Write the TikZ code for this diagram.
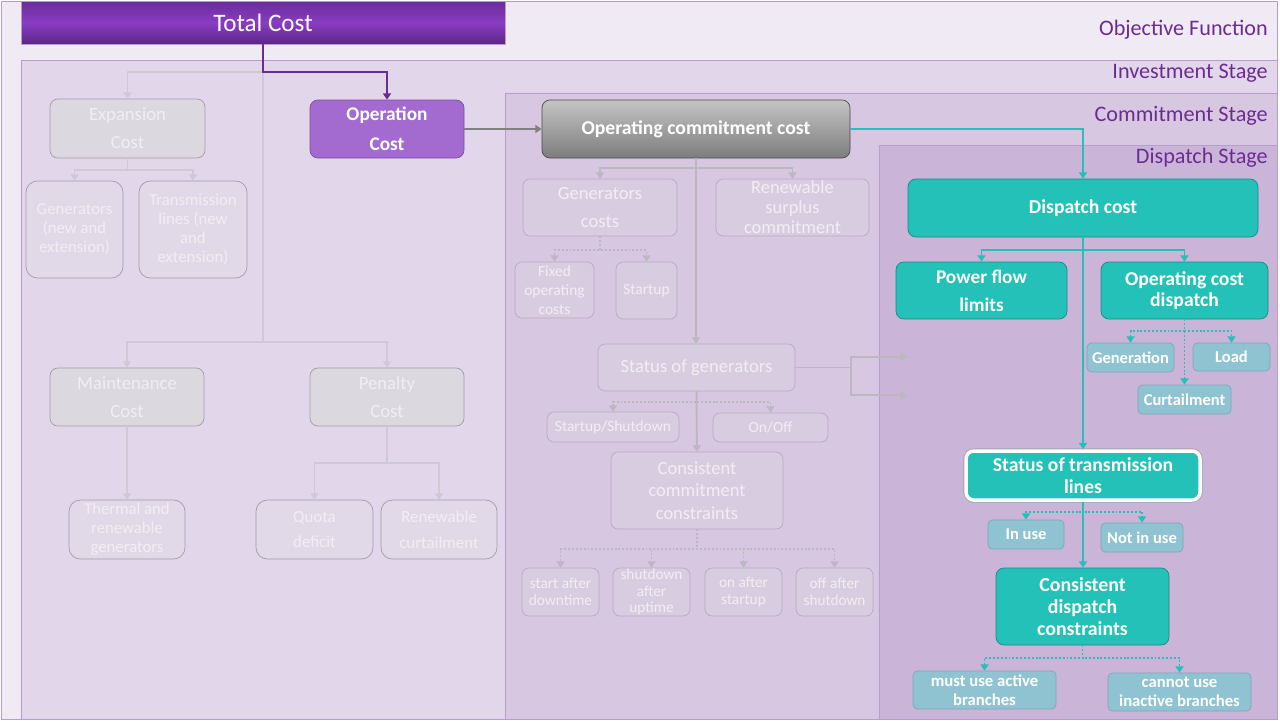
\documentclass[tikz,border=0pt]{standalone}
\usepackage{fontspec}
\setmainfont{Carlito}
\usepackage{tikz}
\usetikzlibrary{
  arrows.meta,
  positioning,
  calc
}
\definecolor{objbg}{HTML}{F0EAF5}
\definecolor{invbg}{HTML}{E2D7EA}
\definecolor{combg}{HTML}{D7C7E1}
\definecolor{disbg}{HTML}{CAB5D8}
\definecolor{stageframe}{HTML}{B79DCA}
\definecolor{stagetext}{HTML}{6A2C91}
\definecolor{totaltop}{HTML}{6A2C99}
\definecolor{totalmid}{HTML}{8A3CC3}
\definecolor{totalbottom}{HTML}{5C2788}
\definecolor{greyfill}{HTML}{DCD8DF}
\definecolor{greyframe}{HTML}{A19AA7}
\definecolor{greytext}{HTML}{F1EEF3}
\definecolor{subfill}{HTML}{E1D9E8}
\definecolor{comfill}{HTML}{D8CDE0}
\definecolor{comframe}{HTML}{B9AAC4}
\definecolor{lightlink}{HTML}{CFC8D5}
\definecolor{comlink}{HTML}{BDB7C1}
\definecolor{opfill}{HTML}{A36BCF}
\definecolor{opframe}{HTML}{7A4A9E}
\definecolor{dispteal}{HTML}{24C1B8}
\definecolor{tealframe}{HTML}{1B8880}
\definecolor{subteal}{HTML}{8FC3D2}
\definecolor{subtealframe}{HTML}{7EA6B6}

\begin{document}
\begin{tikzpicture}[
      x=0.02cm, y=-0.02cm,
      boxwh/.style 2 args={minimum width=#1*0.02cm, minimum height=#2*0.02cm},
      fsz/.style 2 args={font=\fontsize{#1pt}{#2pt}\selectfont},
      fszb/.style 2 args={font=\fontsize{#1pt}{#2pt}\selectfont\bfseries},
      totalbox/.style={draw=stageframe, top color=totaltop, bottom color=totalbottom, middle color=totalmid, inner sep=0pt, text=white, fsz={14.3}{16}},
      costbox/.style={draw=greyframe, fill=greyfill, rounded corners=4.5pt, inner sep=0pt, align=center, text=greytext, fsz={10.6}{15.9}},
      subbox/.style={draw=greyframe, fill=subfill, rounded corners=6.5pt, inner sep=0pt, align=center, text=greytext, fsz={9.5}{10.8}},
      opbox/.style={draw=opframe, fill=opfill, rounded corners=4.5pt, inner sep=0pt, align=center, text=white, fszb={11}{17}},
      gradbox/.style={draw=black!70, top color=black!23, bottom color=black!51, rounded corners=4.5pt, inner sep=0pt, text=white, fszb={11.2}{12.5}},
      combox/.style={draw=comframe, fill=comfill, rounded corners=4pt, inner sep=0pt, align=center, text=greytext, fsz={8.8}{10.8}},
      dispbox/.style={draw=tealframe, fill=dispteal, rounded corners=4.5pt, inner sep=0pt, align=center, text=white, fszb={11.2}{12.2}},
      dispsub/.style={draw=subtealframe, fill=subteal, rounded corners=2.5pt, inner sep=0pt, align=center, text=white, fszb={9.4}{10.8}},
      whiteframe/.style={preaction={draw=black!35, line width=3pt}, draw=white, line width=2pt},
      stagelabel/.style={anchor=east, inner sep=0pt, text=stagetext, fsz={12.6}{14}},
      lightarrow/.style={-{Triangle[length=3.6pt,width=4.6pt]}, line width=1.1pt, lightlink},
      lightline/.style={line width=1.1pt, lightlink},
      comarrow/.style={-{Triangle[length=3.6pt,width=4.6pt]}, line width=1.1pt, comlink},
      comdots/.style={-{Triangle[length=3.6pt,width=4.6pt]}, line width=1.1pt, comlink, dash pattern=on 1.1pt off 1.1pt},
      purplearrow/.style={-{Triangle[length=3.6pt,width=4.6pt]}, line width=1.1pt, stagetext},
      darkarrow/.style={-{Triangle[length=3.6pt,width=4.6pt]}, line width=1.1pt, black!50},
      tealarrow/.style={-{Triangle[length=3.6pt,width=4.6pt]}, line width=1.1pt, dispteal},
      tealdots/.style={-{Triangle[length=3.6pt,width=4.6pt]}, line width=1.1pt, dispteal, dash pattern=on 1.1pt off 1.1pt}
  ]
    \useasboundingbox (0,0) rectangle (1280,720);

    % Stage bands
    \draw [stageframe, fill=objbg] (1,1) rectangle (1277,719.5);
    \draw [stageframe, fill=invbg] (21,60) rectangle (1277,719.5);
    \draw [stageframe, fill=combg] (505,93) rectangle (1277,719.5);
    \draw [stageframe, fill=disbg] (879,145) rectangle (1277,719.5);

    \node [stagelabel] (lblobj) at (1268,30) {Objective Function};
    \node [stagelabel] (lblinv) at (1268,73) {Investment Stage};
    \node [stagelabel] (lblcom) at (1268,116) {Commitment Stage};
    \node [stagelabel] (lbldis) at (1268,158) {Dispatch Stage};

    \node [totalbox, boxwh={484}{43}] (tot) at (263,22.5) {Total Cost};

    % Investment stage
    \node [costbox, boxwh={155}{59}] (exp) at (127.5,128.5) {Expansion\\Cost};
    \node [subbox, boxwh={97}{97}] (gennew) at (74.5,229.5) {Generators\\(new and\\extension)};
    \node [subbox, boxwh={108}{97}] (trans) at (193,229.5) {Transmission\\lines (new\\and\\extension)};
    \node [opbox, boxwh={154}{58}] (oper) at (387,129) {Operation\\Cost};
    \node [costbox, boxwh={154}{58}] (maint) at (127,397) {Maintenance\\Cost};
    \node [costbox, boxwh={154}{58}] (pen) at (387,397) {Penalty\\Cost};
    \node [subbox, boxwh={116}{59}] (therm) at (127,529.5) {Thermal and\\renewable\\generators};
    \node [subbox, boxwh={117}{59}, fsz={9.6}{14.7}] (quota) at (314.5,529.5) {Quota\\deficit};
    \node [subbox, boxwh={116}{59}, fsz={9.6}{14.7}] (rencurt) at (439,529.5) {Renewable\\curtailment};

    % Commitment stage
    \node [gradbox, boxwh={308}{58}] (opcom) at (696,129) {Operating commitment cost};
    \node [combox, boxwh={154}{57}, fsz={10.6}{15.9}] (gencost) at (600,207.5) {Generators\\costs};
    \node [combox, boxwh={153}{57}, fsz={10.5}{11.3}] (rensur) at (792.5,207.5) {Renewable\\surplus\\commitment};
    \node [combox, boxwh={79}{56}] (fixed) at (554.5,290) {Fixed\\operating\\costs};
    \node [combox, boxwh={61}{57}] (startup) at (646.5,290.5) {Startup};
    \node [combox, boxwh={197}{47}, fsz={10.6}{12}] (statgen) at (696.5,367.5) {Status of generators};
    \node [combox, boxwh={132}{30}] (stsh) at (613,427) {Startup/Shutdown};
    \node [combox, boxwh={115}{29}] (onoff) at (770.5,427.5) {On/Off};
    \node [combox, boxwh={172}{77}, fsz={10.5}{12.8}] (conscom) at (697,490.5) {Consistent\\commitment\\constraints};
    \node [combox, boxwh={77}{48}, fsz={8.7}{9.5}] (sad) at (560.5,592) {start after\\downtime};
    \node [combox, boxwh={77}{48}, fsz={8.7}{9.6}] (sau) at (651.5,592) {shutdown\\after\\uptime};
    \node [combox, boxwh={77}{48}, fsz={8.7}{9.5}] (oas) at (743.5,592) {on after\\startup};
    \node [combox, boxwh={77}{48}, fsz={8.7}{9.5}] (oafs) at (834.5,592) {off after\\shutdown};

    % Dispatch stage
    \node [dispbox, boxwh={350}{58}] (dcost) at (1083,208) {Dispatch cost};
    \node [dispbox, boxwh={171}{57}, fszb={11}{16}] (pfl) at (981.5,290.5) {Power flow\\limits};
    \node [dispbox, boxwh={167}{57}] (ocd) at (1184.5,290.5) {Operating cost\\dispatch};
    \node [dispsub, boxwh={87}{29}] (gen) at (1130.5,357.5) {Generation};
    \node [dispsub, boxwh={77}{28}] (load) at (1231.5,357) {Load};
    \node [dispsub, boxwh={93}{29}] (curt) at (1184.5,399.5) {Curtailment};
    \node [dispbox, whiteframe, boxwh={234}{49}] (sttl) at (1083,475.5) {Status of transmission\\lines};
    \node [dispsub, boxwh={76}{29}] (inuse) at (1026,534.5) {In use};
    \node [dispsub, boxwh={82}{29}] (notuse) at (1142,537.5) {Not in use};
    \node [dispbox, boxwh={173}{77}, fszb={11.3}{12.5}] (cdc) at (1082.5,606.5) {Consistent\\dispatch\\constraints};
    \node [dispsub, boxwh={143}{38}, fszb={9.5}{10.8}] (must) at (984.5,690) {must use active\\branches};
    \node [dispsub, boxwh={143}{38}, fszb={9.5}{10.8}] (cannot) at (1179.5,692) {cannot use\\inactive branches};

    % Investment links
    \draw [lightarrow] (tot.south) ++(0,28) -| (exp.north);
    \draw [lightline] (tot.south) -- ++(0,298);
    \draw [lightarrow] (tot.south) ++(0,298) -| (maint.north);
    \draw [lightarrow] (tot.south) ++(0,298) -| (pen.north);
    \draw [purplearrow] (tot.south) -- ++(0,28) -| (oper.north);
    \draw [lightarrow] (exp.south) -- ++(0,12) -| (gennew.north);
    \draw [lightarrow] (exp.south) -- ++(0,12) -| (trans.north);
    \draw [lightarrow] (maint) -- (therm);
    \draw [lightarrow] (pen.south) -- ++(0,37) -| (quota.north);
    \draw [lightarrow] (pen.south) -- ++(0,37) -| (rencurt.north);
    \draw [darkarrow] (oper) -- (opcom);

    % Commitment links
    \draw [comarrow] (opcom.south) -- ++(0,10) -| (gencost.north);
    \draw [comarrow] (opcom.south) -- ++(0,10) -| (rensur.north);
    \draw [comarrow] (opcom.south) -- (opcom.south |- statgen.north);
    \draw [comdots] (gencost.south) -- ++(0,14) -| (fixed.north);
    \draw [comdots] (gencost.south) -- ++(0,14) -| (startup.north);
    \draw [comarrow] (statgen) -- (conscom);
    \draw [comdots] (statgen.south) -- ++(0,11) -| (stsh.north);
    \draw [comdots] (statgen.south) -- ++(0,11) -| (onoff.north);
    \draw [comdots] (conscom.south) -- ++(0,20) -| (sad.north);
    \draw [comdots] (conscom.south) -- ++(0,20) -| (sau.north);
    \draw [comdots] (conscom.south) -- ++(0,20) -| (oas.north);
    \draw [comdots] (conscom.south) -- ++(0,20) -| (oafs.north);

    % Towards dispatch stage
    \coordinate (outA) at (907,357);
    \coordinate (outB) at (907,395);
    \draw [comarrow] (statgen.east) -- ++(56,0) |- (outA);
    \draw [comarrow] (statgen.east) -- ++(56,0) |- (outB);

    % Dispatch links
    \draw [tealarrow] (opcom.east) -| (dcost.north);
    \draw [tealarrow] (dcost.south) -- ++(0,13) -| (pfl.north);
    \draw [tealarrow] (dcost.south) -- ++(0,13) -| (ocd.north);
    \draw [tealarrow] (dcost) -- (sttl);
    \draw [tealarrow] (sttl.south) -- (sttl.south |- cdc.north);
    \draw [tealdots] (ocd.south) -- ++(0,12) -| (gen.north);
    \draw [tealdots] (ocd.south) -- ++(0,12) -| (load.north);
    \draw [tealdots] (ocd) -- (curt);
    \draw [tealdots] (sttl.south) -- ++(0,10) -| (inuse.north);
    \draw [tealdots] (sttl.south) -- ++(0,10) -| (notuse.north);
    \draw [tealdots] (cdc.south) -- ++(0,13) -| (must.north);
    \draw [tealdots] (cdc.south) -- ++(0,13) -| (cannot.north);
  \end{tikzpicture}
\end{document}
